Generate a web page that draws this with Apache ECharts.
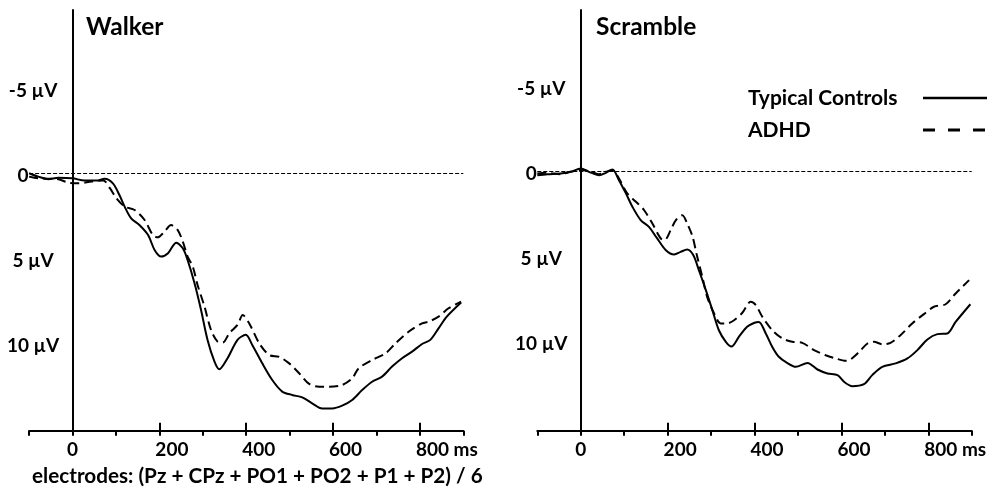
<!DOCTYPE html>
<html>
<head>
<meta charset="utf-8">
<script src="https://cdn.jsdelivr.net/npm/echarts@6/dist/echarts.min.js"></script>
<style>
html, body { margin: 0; padding: 0; background: #fff; }
#chart { width: 992px; height: 494px; }
</style>
</head>
<body>
<div id="chart"></div>
<script>
// 时间 (ms) 和 电位 (µV)
var walkerTcT = [-100, -79, -56, -33, 0, 28, 55, 74, 93, 108, 120, 135, 154, 174, 189, 204, 220, 239, 254, 265, 281, 296, 311, 327, 338, 357, 380, 399, 414, 437, 460, 483, 506, 529, 552, 575, 598, 621, 644, 667, 690, 713, 736, 759, 782, 805, 824, 843, 862, 895];
var walkerTcV = [0.0, 0.2, 0.35, 0.26, 0.3, 0.43, 0.43, 0.33, 0.6, 1.28, 1.96, 2.65, 3.04, 3.63, 4.51, 4.9, 4.7, 4.08, 4.41, 5.1, 6.47, 8.04, 9.8, 11.08, 11.53, 10.88, 9.8, 9.5, 10.1, 11.18, 12.16, 12.84, 13.04, 13.18, 13.53, 13.83, 13.83, 13.67, 13.33, 12.75, 12.26, 11.96, 11.37, 10.88, 10.49, 10.04, 9.8, 9.12, 8.43, 7.6];

var walkerAdT = [-100, -79, -33, -10, 13, 44, 71, 86, 101, 120, 143, 166, 185, 196, 212, 227, 242, 254, 265, 277, 288, 304, 319, 334, 346, 361, 380, 392, 407, 430, 453, 476, 499, 522, 545, 568, 591, 621, 644, 659, 690, 721, 744, 774, 805, 820, 843, 866, 895];
var walkerAdV = [0.2, 0.3, 0.35, 0.55, 0.59, 0.49, 0.43, 0.88, 1.47, 1.96, 2.16, 2.75, 3.63, 3.77, 3.43, 3.05, 3.33, 4.02, 4.9, 5.49, 6.57, 7.84, 9.22, 9.9, 9.96, 9.41, 8.92, 8.34, 8.83, 10.0, 10.69, 10.8, 11.18, 11.76, 12.39, 12.55, 12.55, 12.45, 12.06, 11.47, 10.98, 10.59, 10.0, 9.32, 8.83, 8.73, 8.43, 7.94, 7.55];

var scrambleTcT = [-100, -77, -46, -23, 0, 19, 42, 58, 73, 88, 104, 119, 138, 157, 176, 196, 215, 230, 245, 259, 272, 288, 303, 318, 334, 347, 364, 383, 400, 410, 426, 441, 456, 475, 495, 522, 545, 568, 591, 606, 625, 652, 671, 694, 725, 752, 775, 798, 821, 844, 863, 897];
var scrambleTcV = [0.22, 0.16, 0.12, 0.02, -0.18, 0.02, 0.22, 0.08, -0.12, 0.51, 1.29, 2.08, 2.86, 3.26, 3.94, 4.63, 4.88, 4.73, 4.59, 4.92, 5.81, 6.98, 8.16, 9.34, 10.02, 10.3, 9.73, 9.14, 8.9, 8.85, 9.53, 10.32, 10.9, 11.26, 11.49, 11.26, 11.65, 11.88, 11.98, 12.37, 12.63, 12.51, 11.98, 11.49, 11.29, 11.0, 10.51, 9.88, 9.57, 9.53, 8.85, 7.81];

var scrambleAdT = [-100, -77, -46, -23, 0, 19, 42, 58, 73, 88, 107, 127, 146, 165, 184, 193, 207, 219, 234, 245, 257, 268, 280, 291, 307, 322, 337, 353, 372, 391, 403, 418, 441, 464, 487, 510, 537, 564, 587, 610, 621, 641, 660, 675, 694, 713, 736, 763, 790, 813, 840, 863, 894];
var scrambleAdV = [0.12, 0.08, 0.16, 0.02, -0.08, -0.02, 0.16, 0.02, -0.08, 0.41, 1.29, 1.78, 2.28, 3.06, 3.94, 4.04, 3.45, 2.86, 2.57, 3.06, 3.8, 5.0, 6.2, 7.38, 8.35, 8.94, 8.94, 8.75, 8.31, 7.67, 7.86, 8.55, 9.34, 9.82, 10.02, 10.08, 10.51, 10.81, 11.0, 11.14, 11.06, 10.61, 10.12, 10.02, 10.16, 10.08, 9.63, 8.94, 8.39, 7.96, 7.81, 7.18, 6.39];

var xTicks = [0, 200, 400, 600, 800];
var xMinorTicks = [-100, 0, 100, 200, 300, 400, 500, 600, 700, 800, 900];
var yTicks = [-5, 0, 5, 10];
var groupNames = ['Typical Controls', 'ADHD'];

var FONT = 'Lato';
var FS = 21;      // 图例
var NFS = 20.7;   // 底部文字
var AXFS = 19;    // 坐标轴标签
var TFS = 24.5;   // 标题

function pairs(ts, vs) {
	return ts.map(function(t, i) { return [t, vs[i]]; });
}

// 量一下文字宽度，用来把x轴标签往右挪
var ctx = document.createElement('canvas').getContext('2d');
ctx.font = 'bold ' + AXFS + 'px ' + FONT;
function textW(s) { return ctx.measureText(s).width; }
var padNum = textW('200') - 8;
var padMs = textW('800 ms') - 8;

var noteTxt = { fontFamily: FONT, fontSize: NFS, fontWeight: 'bold', color: '#000' };
var titleTxt = { fontFamily: FONT, fontSize: TFS, fontWeight: 'bold', color: '#000' };

function xAxisMain(grid) {
	return {
		type: 'value', gridIndex: grid, min: -100, max: 900,
		axisLine: { onZero: false, lineStyle: { color: '#000', width: 2 } },
		axisTick: { customValues: xTicks, inside: true, length: 8, lineStyle: { color: '#000', width: 2 } },
		axisLabel: {
			customValues: xTicks, margin: 10,
			fontFamily: FONT, fontSize: AXFS, fontWeight: 'bold', color: '#000',
			formatter: function(v) {
				if (v === 0) return '0';
				if (v === 800) return '{q| }800 ms';
				return '{p| }' + v;
			},
			rich: { p: { width: padNum }, q: { width: padMs } }
		},
		splitLine: { show: false }
	};
}
function xAxisMinor(grid) {
	return {
		type: 'value', gridIndex: grid, min: -100, max: 900,
		axisLine: { show: false, onZero: false },
		axisTick: { customValues: xMinorTicks, inside: false, length: 5, lineStyle: { color: '#000', width: 2 } },
		axisLabel: { show: false },
		splitLine: { show: false }
	};
}
function yAxisMain(grid, lo, hi) {
	return {
		type: 'value', gridIndex: grid, inverse: true, min: lo, max: hi,
		axisLine: { onZero: true, lineStyle: { color: '#000', width: 2 } },
		axisTick: { show: false },
		axisLabel: {
			customValues: yTicks, margin: -4, align: 'center', padding: [5, 0, 0, 0],
			fontFamily: FONT, fontSize: AXFS, fontWeight: 'bold', color: '#000',
			formatter: function(v) {
				if (v === 0) return '0{s| }';
				return v + ' µV';
			},
			rich: { s: { width: 20 } }
		},
		splitLine: { show: false }
	};
}
function yAxisHidden(grid, lo, hi) {
	return { type: 'value', gridIndex: grid, inverse: true, min: lo, max: hi, show: false };
}

var zeroLine = {
	silent: true, symbol: 'none', label: { show: false },
	lineStyle: { color: '#000', type: [4, 2], width: 1.2 },
	data: [{ yAxis: 0 }]
};

function line(name, axis, data, dashed, mark) {
	var s = {
		name: name, type: 'line', xAxisIndex: axis, yAxisIndex: axis,
		data: data, symbol: 'none', smooth: 0.3, animation: false,
		lineStyle: { color: '#000', width: 2, type: dashed ? [9, 5] : 'solid' },
		itemStyle: { color: '#000' }
	};
	if (mark) s.markLine = zeroLine;
	return s;
}

function gridAt(left, width) {
	return { left: left, top: 10, width: width, height: 420.7, outerBoundsMode: 'none', containLabel: false };
}

var chart = echarts.init(document.getElementById('chart'));
chart.setOption({
	animation: false,
	backgroundColor: '#fff',
	title: [
		{ text: 'Walker', left: 86, top: 15, padding: 0, textStyle: titleTxt },
		{ text: 'Scramble', left: 596, top: 15, padding: 0, textStyle: titleTxt },
		{ text: 'electrodes: (Pz + CPz + PO1 + PO2 + P1 + P2) / 6', left: 32, top: 466, padding: 0, textStyle: noteTxt }
	],
	legend: {
		orient: 'vertical', left: 748, top: 87, align: 'right', padding: 0,
		itemWidth: 64, itemHeight: 12, itemGap: 10, selectedMode: false,
		itemStyle: { opacity: 0 },
		formatter: function(n) { return '{a|' + n + '}'; },
		textStyle: {
			fontFamily: FONT, fontSize: FS, fontWeight: 'bold', color: '#000', lineHeight: 22,
			rich: { a: { width: 170, align: 'left', fontFamily: FONT, fontSize: FS, fontWeight: 'bold', color: '#000' } }
		},
		data: [
			{ name: groupNames[0], lineStyle: { width: 2.5 } },
			{ name: groupNames[1], lineStyle: { width: 3, type: [12, 13] } }
		]
	},
	grid: [
		gridAt(29.1, 434.2), gridAt(537.3, 434.4),
		gridAt(29.1, 434.2), gridAt(537.3, 434.4)
	],
	xAxis: [xAxisMain(0), xAxisMain(1), xAxisMinor(2), xAxisMinor(3)],
	yAxis: [
		yAxisMain(0, -9.6, 15.14), yAxisMain(1, -9.5, 15.25),
		yAxisHidden(2, -9.6, 15.14), yAxisHidden(3, -9.5, 15.25)
	],
	series: [
		line(groupNames[0], 0, pairs(walkerTcT, walkerTcV), false, true),
		line(groupNames[1], 0, pairs(walkerAdT, walkerAdV), true, false),
		line(groupNames[0], 1, pairs(scrambleTcT, scrambleTcV), false, true),
		line(groupNames[1], 1, pairs(scrambleAdT, scrambleAdV), true, false)
	]
});
</script>
</body>
</html>
